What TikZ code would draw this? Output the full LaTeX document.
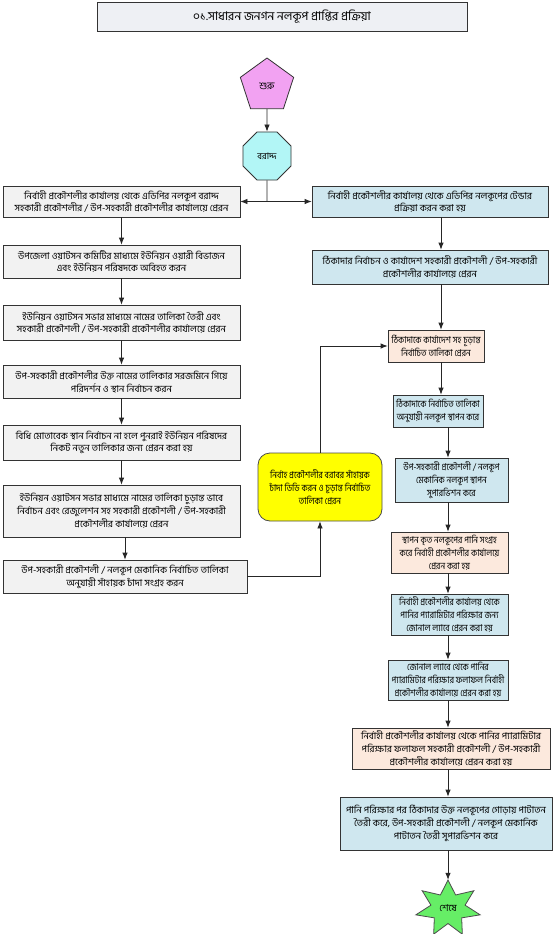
\documentclass[tikz,border=0pt]{standalone}
\usepackage{fontspec}
\setmainfont[Script=Bengali]{Hind Siliguri}
\newfontfamily\narrowbn[Script=Bengali,FakeStretch=0.87]{Hind Siliguri}
\usetikzlibrary{shapes.geometric,shadows,arrows.meta}
\definecolor{lgray}{HTML}{F2F2F2}
\definecolor{lblue}{HTML}{CFE7EF}
\definecolor{peach}{HTML}{FCE9DD}
\definecolor{ttl}{HTML}{EEF0F4}
\definecolor{violet}{HTML}{F2A2F2}
\definecolor{cyanoct}{HTML}{B2F6F6}
\definecolor{starg}{HTML}{66EE66}
\definecolor{yell}{HTML}{FFFF00}
\tikzset{
  box/.style={draw=black!80, line width=0.8pt, inner sep=1pt, align=center,
    drop shadow={shadow xshift=1.2pt, shadow yshift=-1.2pt, fill=black!50, opacity=1}},
  lbox/.style={box, fill=lgray},
  bbox/.style={box, fill=lblue},
  pbox/.style={box, fill=peach},
  narrow/.style={font=\narrowbn\fontsize{9.5}{12.8}\selectfont},
  arr/.style={draw=black!85, line width=0.8pt, -{Latex[length=7pt,width=5.5pt]}},
  ln/.style={draw=black!85, line width=0.8pt},
}
\begin{document}
\begin{tikzpicture}[x=1pt,y=-1pt, font=\fontsize{9.5}{12.8}\selectfont]
\useasboundingbox (0,0) rectangle (554,934);
\fill[white] (0,0) rectangle (554,934);

\node[box, fill=ttl, minimum width=370pt, minimum height=29pt, font=\fontsize{12}{14}\selectfont] (T) at (282,16.5) {০১.সাধারন জনগন নলকূপ প্রাপ্তির প্রক্রিয়া};

\node[regular polygon, regular polygon sides=5, minimum size=56pt, draw=black!80, line width=0.8pt, fill=violet, inner sep=0pt, font=\fontsize{10}{12}\selectfont] (P) at (267,86) {শুরু};
\node[regular polygon, regular polygon sides=8, minimum size=52pt, draw=black!80, line width=0.8pt, fill=cyanoct, inner sep=0pt, font=\fontsize{9}{11}\selectfont] (O) at (267,156) {বরাদ্দ};

% left column
\node[lbox, minimum width=237pt, minimum height=31pt] (L1) at (121.5,201.5) {নির্বাহী প্রকৌশলীর কার্যালয় থেকে এডিপির নলকূপ বরাদ্দ\\সহকারী প্রকৌশলীর / উপ-সহকারী প্রকৌশলীর কার্যালয়ে প্রেরন};
\node[lbox, minimum width=237pt, minimum height=33pt] (L2) at (121.5,261.5) {উপজেলা ওয়াটসন কমিটির মাধ্যমে ইউনিয়ন ওয়ারী বিভাজন\\এবং ইউনিয়ন পরিষদকে  অবিহত করন};
\node[lbox, minimum width=237pt, minimum height=35pt] (L3) at (121.5,322.5) {ইউনিয়ন ওয়াটসন সভার মাধ্যমে নামের  তালিকা তৈরী এবং\\সহকারী প্রকৌশলী / উপ-সহকারী প্রকৌশলীর কার্যালয়ে প্রেরন};
\node[lbox, minimum width=237pt, minimum height=33pt] (L4) at (121.5,381.5) {উপ-সহকারী প্রকৌশলীর উক্ত নামের তালিকার সরজমিনে গিয়ে\\পরিদর্শন ও স্থান নির্বাচন করন};
\node[lbox, minimum width=237pt, minimum height=35pt] (L5) at (121.5,442.5) {বিধি মোতাবেক স্থান নির্বাচন না হলে পুনরাই ইউনিয়ন পরিষদের\\নিকট নতুন তালিকার জন্য প্রেরন করা হয়};
\node[lbox, minimum width=237pt, minimum height=52pt] (L6) at (121.5,511) {ইউনিয়ন ওয়াটসন সভার মাধ্যমে নামের তালিকা চুড়ান্ত ভাবে\\নির্বাচন এবং রেজুলেশন সহ সহকারী প্রকৌশলী / উপ-সহকারী\\প্রকৌশলীর কার্যালয়ে প্রেরন};
\node[lbox, minimum width=244pt, minimum height=33pt] (L7) at (125,576.5) {উপ-সহকারী প্রকৌশলী / নলকূপ মেকানিক নির্বাচিত তালিকা\\অনুযায়ী সাঁহায়ক চাঁদা সংগ্রহ করন};

\node[draw=black!70, line width=0.8pt, fill=yell, rounded corners=12pt, align=center, minimum width=124pt, minimum height=68pt, inner sep=1pt, narrow] (Y) at (320,487) {নির্বাহ প্রকৌশলীর বরাবর সাঁহায়ক\\চাঁদা ডিডি করন ও চূড়ান্ত নির্বাচিত\\তালিকা প্রেরন};

% right column
\node[bbox, minimum width=236pt, minimum height=31pt] (R1) at (430,201.5) {নির্বাহী প্রকৌশলীর কার্যালয় থেকে এডিপির নলকূপের টেন্ডার\\প্রক্রিয়া করন করা হয়};
\node[bbox, minimum width=236pt, minimum height=34pt] (R2) at (430,267) {ঠিকাদার নির্বাচন ও কার্যাদেশ সহকারী প্রকৌশলী / উপ-সহকারী\\প্রকৌশলীর কার্যালয়ে প্রেরন};
\node[pbox, minimum width=96pt, minimum height=32pt, narrow] (R3) at (436,346) {ঠিকাদাকে কার্যাদেশ সহ চূড়ান্ত\\নির্বাচিত তালিকা প্রেরন};
\node[bbox, minimum width=90pt, minimum height=32pt, narrow] (R4) at (438,411) {ঠিকাদাকে নির্বাচিত তালিকা\\অনুযায়ী নলকূপ স্থাপন করে};
\node[bbox, minimum width=113pt, minimum height=44pt, narrow] (R5) at (451.5,480) {উপ-সহকারী প্রকৌশলী / নলকূপ\\মেকানিক নলকূপ স্থাপন\\সুপারভিশন করে};
\node[pbox, minimum width=117pt, minimum height=41pt, narrow] (R6) at (449.5,552.5) {স্থাপন কৃত নলকূপের পানি সংগ্রহ\\করে নির্বাহী প্রকৌশলীর কার্যালয়ে\\প্রেরন করা হয়};
\node[bbox, minimum width=117pt, minimum height=41pt, narrow] (R7) at (449.5,614.5) {নির্বাহী প্রকৌশলীর কার্যালয় থেকে\\পানির প্যারামিটার পরিক্ষার জন্য\\জোনাল ল্যাবে প্রেরন করা হয়};
\node[bbox, minimum width=120pt, minimum height=40pt, narrow] (R8) at (448,680) {জোনাল ল্যাবে থেকে পানির\\প্যারামিটার পরিক্ষার ফলাফল নির্বাহী\\প্রকৌশলীর কার্যালয়ে প্রেরন করা হয়};
\node[pbox, minimum width=198pt, minimum height=41pt] (R9) at (451,748.5) {নির্বাহী প্রকৌশলীর কার্যালয় থেকে পানির প্যারামিটার\\পরিক্ষার ফলাফল সহকারী প্রকৌশলী / উপ-সহকারী\\প্রকৌশলীর কার্যালয়ে প্রেরন করা হয়};
\node[bbox, minimum width=212pt, minimum height=53pt] (R10) at (446,823.5) {পানি পরিক্ষার পর ঠিকাদার উক্ত নলকূপের গোড়ায়  পাটাতন\\তৈরী করে, উপ-সহকারী প্রকৌশলী / নলকূপ মেকানিক\\পাটাতন তৈরী সুপারভিশন করে};

% star
\draw[draw=black!70, line width=0.8pt, fill=starg] plot[samples at={0,...,13}] ({448+(mod(\x,2)==0?33:17.5)*cos(90+\x*180/7)}, {908.5-(mod(\x,2)==0?28.5:15)*sin(90+\x*180/7)}) -- cycle;
\node[minimum width=30pt, minimum height=57pt, inner sep=0pt] (S) at (448,908.5) {শেষে};

% connectors
\coordinate (J) at (267,201.5);
\coordinate (ax) at (441,0);
\coordinate (bx) at (448,0);
\draw[arr] (P) -- (O);
\draw[ln] (O.south) -- (J);
\draw[arr] (J) -- (L1.east);
\draw[arr] (J) -- (R1.west);
\draw[arr] (L1) -- (L2);
\draw[arr] (L2) -- (L3);
\draw[arr] (L3) -- (L4);
\draw[arr] (L4) -- (L5);
\draw[arr] (L5) -- (L6);
\draw[arr] (L6.south -| L7.north) -- (L7.north);
\draw[arr] (L7.east) -| (Y.south);
\draw[arr] (Y.north) |- (R3.west);
\draw[arr] (R1.south -| ax) -- (R2.north -| ax);
\draw[arr] (R2.south -| ax) -- (R3.north -| ax);
\draw[arr] (R3.south -| ax) -- (R4.north -| ax);
\draw[arr] (R4.south -| bx) -- (R5.north -| bx);
\draw[arr] (R5.south -| bx) -- (R6.north -| bx);
\draw[arr] (R6.south -| bx) -- (R7.north -| bx);
\draw[arr] (R7.south -| bx) -- (R8.north -| bx);
\draw[arr] (R8.south -| bx) -- (R9.north -| bx);
\draw[arr] (R9.south -| bx) -- (R10.north -| bx);
\draw[arr] (R10.south -| S.north) -- (S.north);
\end{tikzpicture}
\end{document}
